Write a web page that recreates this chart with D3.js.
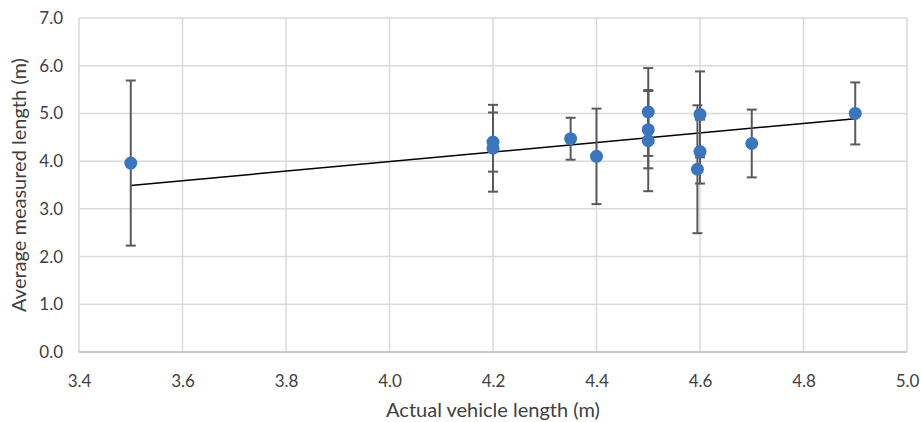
<!DOCTYPE html>
<html>
<head>
<meta charset="utf-8">
<style>
  body { margin: 0; background: #fff; }
  text { font-family: Lato, "Open Sans", sans-serif; fill: #404040; }
</style>
<script src="https://cdn.jsdelivr.net/npm/d3@7"></script>
</head>
<body>
<svg id="chart" width="921" height="422"></svg>
<script>
// data
var actualLength = [3.5, 4.2, 4.2, 4.35, 4.4, 4.5, 4.5, 4.5, 4.6, 4.6, 4.595, 4.7, 4.9];
var measuredLength = [3.96, 4.40, 4.27, 4.47, 4.10, 5.03, 4.66, 4.43, 4.98, 4.20, 3.83, 4.37, 5.00];
var errorSize = [1.73, 0.62, 0.91, 0.44, 1.00, 0.92, 0.81, 1.06, 0.90, 0.67, 1.34, 0.71, 0.65];
var lineX = [3.5, 4.9];
var lineY = [3.49, 4.89];
var xTicks = [3.4, 3.6, 3.8, 4.0, 4.2, 4.4, 4.6, 4.8, 5.0];
var yTicks = [0, 1, 2, 3, 4, 5, 6, 7];

var margin = {top: 18, right: 14, bottom: 70, left: 79};
var width = 921 - margin.left - margin.right;
var height = 422 - margin.top - margin.bottom;

var svg = d3.select("#chart");
var g = svg.append("g").attr("transform", "translate(" + margin.left + "," + margin.top + ")");

var x = d3.scaleLinear().domain([3.4, 5.0]).range([0, width]);
var y = d3.scaleLinear().domain([0, 7]).range([height, 0]);

// grid
g.append("g").selectAll("line.v").data(xTicks).enter().append("line")
  .attr("x1", function(d) { return x(d); }).attr("x2", function(d) { return x(d); })
  .attr("y1", 0).attr("y2", height)
  .attr("stroke", "#d9d9d9").attr("stroke-width", 1.5);
g.append("g").selectAll("line.h").data(yTicks).enter().append("line")
  .attr("x1", 0).attr("x2", width)
  .attr("y1", function(d) { return y(d); }).attr("y2", function(d) { return y(d); })
  .attr("stroke", "#d9d9d9").attr("stroke-width", 1.5);

// axes (labels only)
var xAxis = g.append("g").attr("transform", "translate(0," + height + ")")
  .call(d3.axisBottom(x).tickValues(xTicks).tickFormat(d3.format(".1f")).tickSize(0).tickPadding(23));
var yAxis = g.append("g")
  .call(d3.axisLeft(y).tickValues(yTicks).tickFormat(d3.format(".1f")).tickSize(0).tickPadding(16));
[xAxis, yAxis].forEach(function(a) {
  a.select(".domain").remove();
  a.selectAll("text").attr("font-size", 17).attr("fill", "#404040")
    .attr("font-family", "Lato, 'Open Sans', sans-serif");
});
g.append("line").attr("x1", 0).attr("x2", width).attr("y1", height).attr("y2", height)
  .attr("stroke", "#bfbfbf").attr("stroke-width", 1.5);

// reference line
var line = d3.line().x(function(d) { return x(d[0]); }).y(function(d) { return y(d[1]); });
g.append("path").datum(d3.zip(lineX, lineY)).attr("d", line)
  .attr("fill", "none").attr("stroke", "#000").attr("stroke-width", 1.5);

// error bars
var pts = actualLength.map(function(v, i) { return {x: v, y: measuredLength[i], e: errorSize[i]}; });
var eb = g.append("g").selectAll("g").data(pts).enter().append("g")
  .attr("stroke", "#595959").attr("stroke-width", 2);
eb.append("line")
  .attr("x1", function(d) { return x(d.x); }).attr("x2", function(d) { return x(d.x); })
  .attr("y1", function(d) { return y(d.y + d.e); }).attr("y2", function(d) { return y(d.y - d.e); });
eb.append("line")
  .attr("x1", function(d) { return x(d.x) - 5; }).attr("x2", function(d) { return x(d.x) + 5; })
  .attr("y1", function(d) { return y(d.y + d.e); }).attr("y2", function(d) { return y(d.y + d.e); });
eb.append("line")
  .attr("x1", function(d) { return x(d.x) - 5; }).attr("x2", function(d) { return x(d.x) + 5; })
  .attr("y1", function(d) { return y(d.y - d.e); }).attr("y2", function(d) { return y(d.y - d.e); });

// points
g.append("g").selectAll("circle").data(pts).enter().append("circle")
  .attr("cx", function(d) { return x(d.x); })
  .attr("cy", function(d) { return y(d.y); })
  .attr("r", 6.5)
  .attr("fill", "#3a76c0");

// titles
svg.append("text").attr("x", margin.left + width / 2).attr("y", 417)
  .attr("text-anchor", "middle").attr("font-size", 20).text("Actual vehicle length (m)");
svg.append("text").attr("transform", "translate(26," + (margin.top + height / 2) + ") rotate(-90)")
  .attr("text-anchor", "middle").attr("font-size", 20).text("Average measured length (m)");
</script>
</body>
</html>
